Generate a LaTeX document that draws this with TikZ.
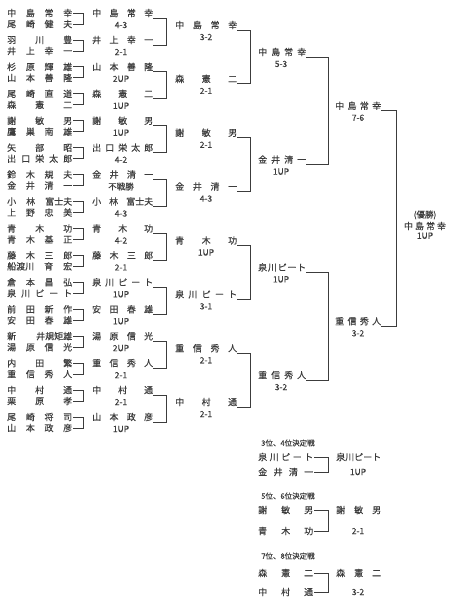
\documentclass[tikz,border=0pt]{standalone}
\usepackage{fontspec}
\setmainfont{Noto Sans CJK JP}[BoldFont={Noto Sans CJK JP}, BoldFeatures={FakeBold=0.3}]
\usetikzlibrary{positioning, calc}
\definecolor{ink}{HTML}{3C3C3C}
\newcommand{\jname}[2]{\makebox[#1][s]{\spaceskip=0pt plus 1fil\relax#2}}

\begin{document}
\begin{tikzpicture}[
    x=1pt, y=-1pt,
    entry/.style={anchor=west, inner sep=0pt, text=ink,
                  font=\fontsize{9}{10}\selectfont\bfseries},
    score/.style={inner sep=0pt, text=ink, font=\fontsize{8.5}{9}\selectfont\bfseries},
    title/.style={inner sep=0pt, text=ink, font=\fontsize{7.5}{8}\selectfont\bfseries},
    wire/.style={draw=ink, line width=0.8pt}
  ]
  \useasboundingbox (0,0) rectangle (449,600);

  % Round 1
  \foreach \ta/\tb/\wn/\rs [count=\i from 0] in {
      中 島 常 幸/尾 崎 健 夫/中 島 常 幸/4-3,
      羽 川 豊/井 上 幸 一/井 上 幸 一/2-1,
      杉 原 輝 雄/山 本 善 隆/山 本 善 隆/2UP,
      尾 崎 直 道/森 憲 二/森 憲 二/1UP,
      謝 敏 男/鷹 巣 南 雄/謝 敏 男/1UP,
      矢 部 昭/出 口 栄 太 郎/出 口 栄 太 郎/4-2,
      鈴 木 規 夫/金 井 清 一/金 井 清 一/不戦勝,
      小 林 富士夫/上 野 忠 美/小 林 富士夫/4-3,
      青 木 功/青 木 基 正/青 木 功/4-2,
      藤 木 三 郎/船渡川 育 宏/藤 木 三 郎/2-1,
      倉 本 昌 弘/泉 川 ピ ー ト/泉 川 ピ ー ト/1UP,
      前 田 新 作/安 田 春 雄/安 田 春 雄/1UP,
      新 井規矩雄/湯 原 信 光/湯 原 信 光/2UP,
      内 田 繁/重 信 秀 人/重 信 秀 人/2-1,
      中 村 通/栗 原 孝/中 村 通/2-1,
      尾 崎 将 司/山 本 政 彦/山 本 政 彦/1UP} {
    \pgfmathsetmacro{\yt}{13+26.93*\i}
    \node[entry] (ta\i) at (7,\yt) {\jname{65pt}{\ta}};
    \node[entry] (tb\i) at (7,\yt+11) {\jname{65pt}{\tb}};
    \node[entry] (w\i) at (92,\yt) {\jname{61pt}{\wn}};
    \node[score] (ws\i) at (121,\yt+12) {\rs};
    \draw[wire] ([xshift=1pt]ta\i.east) -- ++(10,0) |- ([xshift=1pt]tb\i.east);
  }

  % Round 2
  \foreach \wn/\rs [count=\k from 0] in {
      中 島 常 幸/3-2, 森 憲 二/2-1, 謝 敏 男/2-1, 金 井 清 一/4-3,
      青 木 功/1UP, 泉 川 ピ ー ト/3-1, 重 信 秀 人/2-1, 中 村 通/2-1} {
    \pgfmathtruncatemacro{\m}{2*\k}
    \pgfmathtruncatemacro{\n}{2*\k+1}
    \pgfmathsetmacro{\yt}{13+26.93*\m}
    \node[entry] (v\k) at (175,\yt+12) {\jname{62pt}{\wn}};
    \node[score] (vs\k) at (206,\yt+24) {\rs};
    \draw[wire] ([yshift=-5pt]w\m.east) -- ++(13,0) |- ([yshift=-5pt]w\n.east);
  }

  % Round 3
  \foreach \wn/\rs [count=\j from 0] in {
      中 島 常 幸/5-3, 金 井 清 一/1UP, 泉 川 ピ ー ト/1UP, 重 信 秀 人/3-2} {
    \pgfmathtruncatemacro{\m}{2*\j}
    \pgfmathtruncatemacro{\n}{2*\j+1}
    \pgfmathsetmacro{\yc}{13+26.93*(4*\j+1)+17}
    \node[entry] (u\j) at (258,\yc-5) {\jname{48pt}{\wn}};
    \node[score] (us\j) at (281,\yc+7) {\rs};
    \draw[wire] ([yshift=-5pt]v\m.east) -- ++(13,0) |- ([yshift=-5pt]v\n.east);
  }

  % Semi-final
  \foreach \wn/\rs [count=\h from 0] in {中 島 常 幸/7-6, 重 信 秀 人/3-2} {
    \pgfmathtruncatemacro{\m}{2*\h}
    \pgfmathtruncatemacro{\n}{2*\h+1}
    \pgfmathsetmacro{\yc}{13+26.93*(8*\h+3)+17}
    \node[entry] (t\h) at (335,\yc-5) {\jname{46pt}{\wn}};
    \node[score] (ts\h) at (358,\yc+7) {\rs};
    \draw[wire] ([yshift=-5pt]u\m.east) -- ++(22,0) |- ([yshift=-5pt]u\n.east);
  }

  % Final
  \draw[wire] ([yshift=-5pt]t0.east) -- ++(15,0) |- ([yshift=-5pt]t1.east);
  \node[score] (champt) at (425,215) {(優勝)};
  \node[entry, below=2pt of champt] (champ) {\jname{42pt}{中 島 常 幸}};
  \node[score, below=2pt of champ] (champs) {1UP};

  % Placing matches
  \foreach \ttl/\ca/\cb/\rs/\yb/\yg/\yh [count=\c from 0] in {
      3位、4位決定戦/泉 川 ピ ー ト/金 井 清 一/1UP/457/472/443,
      5位、6位決定戦/謝 敏 男/青 木 功/2-1/510/531/496,
      7位、8位決定戦/森 憲 二/中 村 通/3-2/573/592/556} {
    \node[title] (h\c) at (288,\yh) {\ttl};
    \node[entry] (ca\c) at (258,\yb) {\jname{55pt}{\ca}};
    \node[entry] (cb\c) at (258,\yg) {\jname{55pt}{\cb}};
    \node[entry] (cw\c) at (336,\yb) {\jname{45pt}{\ca}};
    \node[score] (cs\c) at (358,\yg) {\rs};
    \draw[wire] ([xshift=1pt]ca\c.east) -- ++(14,0) |- ([xshift=1pt]cb\c.east);
  }
\end{tikzpicture}
\end{document}
